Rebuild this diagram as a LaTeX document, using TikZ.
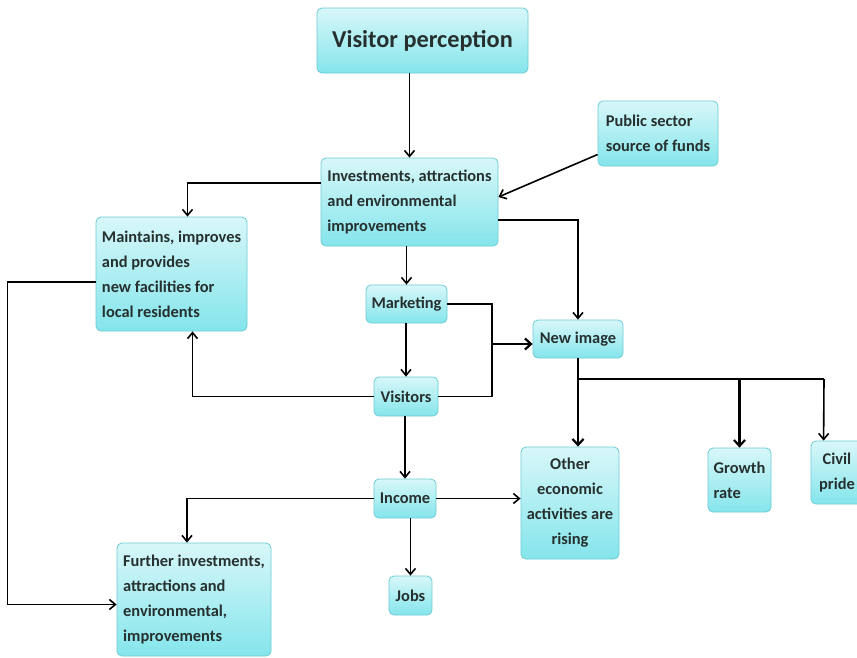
\documentclass[tikz,border=0pt]{standalone}
\usepackage{fontspec}
\setmainfont{Carlito}
\usetikzlibrary{arrows.meta}
\definecolor{boxtop}{HTML}{D8F7F9}
\definecolor{boxbot}{HTML}{84E5EB}
\definecolor{boxline}{HTML}{6CCCD4}
\definecolor{boxtext}{HTML}{26302F}
\begin{document}
\begin{tikzpicture}[x=1pt, y=-1pt,
box/.style={rectangle, rounded corners=5pt, draw=boxline, line width=0.8pt, top color=boxtop, bottom color=boxbot, text=boxtext, font=\fontsize{16.4}{25}\selectfont\bfseries, inner xsep=4pt, inner ysep=6pt},
link/.style={line width=1.6pt, black, -{Straight Barb[length=6pt, width=10pt, line width=1.6pt]}},
plain/.style={line width=1.6pt, black},
heavy/.style={line width=2.8pt, black, -{Straight Barb[length=6pt, width=11pt, line width=2.2pt]}},
]
\useasboundingbox[fill=white] (0,0) rectangle (857,657);
%Nodes
\node[box, minimum width=211pt, minimum height=65pt, font=\fontsize{24.3}{28}\selectfont\bfseries] (vp) at (422.5,40.5) {Visitor perception};
\node[box, minimum width=177pt, minimum height=88pt, align=left] (inv) at (409.5,202) {Investments, attractions\\and environmental\\improvements};
\node[box, minimum width=120pt, minimum height=65pt, align=left] (pub) at (658,133.5) {Public sector\\source of funds};
\node[box, minimum width=151pt, minimum height=114pt, align=left] (maint) at (171.5,274) {Maintains, improves\\and provides\\new facilities for\\local residents};
\node[box, minimum width=81pt, minimum height=38pt] (mkt) at (406.5,304) {Marketing};
\node[box, minimum width=90pt, minimum height=38pt] (newimg) at (578,339) {New image};
\node[box, minimum width=64pt, minimum height=39pt] (vis) at (406,396.5) {Visitors};
\node[box, minimum width=62pt, minimum height=39pt] (inc) at (405,498.5) {Income};
\node[box, minimum width=98pt, minimum height=112pt, align=center] (other) at (570,503) {Other\\economic\\activities are\\rising};
\node[box, minimum width=63pt, minimum height=64pt, align=left] (growth) at (739.5,480) {Growth\\rate};
\node[box, minimum width=52pt, minimum height=63pt, align=center] (civil) at (837,472.5) {Civil\\pride};
\node[box, minimum width=154pt, minimum height=113pt, align=left] (further) at (194,599.5) {Further investments,\\attractions and\\environmental,\\improvements};
\node[box, minimum width=43pt, minimum height=39pt] (jobs) at (410.5,595.5) {Jobs};

%Lines
\draw[link] (inv.north |- vp.south) -- (inv.north);
\draw[link] ([yshift=-21pt]pub.west) -- ([yshift=5pt]inv.east);
\draw[link] ([yshift=19pt]inv.west) -| ([xshift=16pt]maint.north);
\draw[link] ([yshift=-18pt]inv.east) -| (newimg.north);
\draw[link] (mkt.north |- inv.south) -- (mkt.north);
\coordinate (join) at (492,344);
\draw[plain] (mkt.east) -| (join);
\draw[plain] (vis.east) -| (join);
\draw[heavy] (join) -- (join -| newimg.west);
\draw[link] (vis.north |- mkt.south) -- (vis.north);
\draw[link] (vis.west) -| ([xshift=21pt]maint.south);
\draw[link] (inc.north |- vis.south) -- (inc.north);
\draw[link] (inc.west) -| ([xshift=-7pt]further.north);
\draw[link] (inc.east) -- (inc.east -| other.west);
\draw[link] (jobs.north |- inc.south) -- (jobs.north);
\coordinate (branch) at (578,379);
\draw[heavy] (newimg.south) -- (newimg.south |- other.north);
\draw[plain] (branch) -- (824,379);
\draw[heavy] (growth.north |- branch) -- (growth.north);
\draw[link] (824,379) -- ([xshift=13pt]civil.north west);
\draw[link] ([yshift=-8pt]maint.west) -- ++(-88,0) |- ([yshift=-5pt]further.west);
\end{tikzpicture}
\end{document}
